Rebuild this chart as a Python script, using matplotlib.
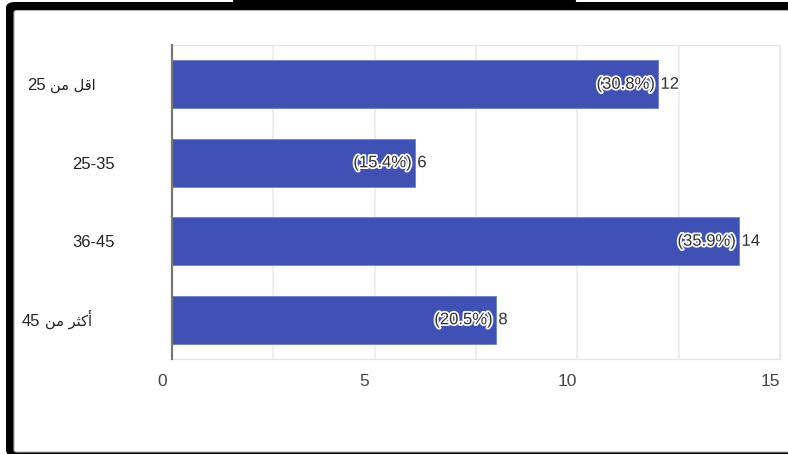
import numpy as np
import matplotlib.pyplot as plt
import matplotlib.patheffects as pe
from matplotlib.patches import FancyBboxPatch, Rectangle
from matplotlib.transforms import ScaledTranslation

plt.rcParams['font.family'] = ['Liberation Sans', 'DejaVu Sans']

# Data (Arabic labels written in visual order with presentation forms,
# since matplotlib does no shaping / bidi)
categories = ['25 \uFEE6\uFEE3 \uFEDE\uFED7\uFE8D',   # اقل من 25
              '25-35',
              '36-45',
              '45 \uFEE6\uFEE3 \uFEAE\uFE9C\uFEDB\uFE83']  # أكثر من 45
counts = [12, 6, 14, 8]
percents = ['30.8%', '15.4%', '35.9%', '20.5%']
xtick_values = [0, 5, 10, 15]

W, H = 788, 454
fig = plt.figure(figsize=(W / 100, H / 100), dpi=100)


def fx(px):
    return px / W


def fy(py):
    return 1 - py / H


# Black rounded frame around the chart (screenshot border)
outer = FancyBboxPatch((fx(6), fy(456)), fx(820) - fx(6), fy(2) - fy(456),
                       boxstyle='round,pad=0,rounding_size=0.012',
                       transform=fig.transFigure, facecolor='black',
                       edgecolor='none', zorder=-3)
inner = FancyBboxPatch((fx(14), fy(452)), fx(815) - fx(14), fy(10.5) - fy(452),
                       boxstyle='round,pad=0,rounding_size=0.004',
                       transform=fig.transFigure, facecolor='white',
                       edgecolor='#b0b0b0', linewidth=0.8, zorder=-2)
fig.patches.extend([outer, inner])
# bit of a table peeking in at the top
fig.patches.append(Rectangle((fx(233), fy(1.4)), fx(575) - fx(233), fy(0) - fy(1.4),
                             transform=fig.transFigure, facecolor='white',
                             edgecolor='black', linewidth=0.8, zorder=-1))
for px in [333, 426, 466]:
    fig.add_artist(plt.Line2D([fx(px), fx(px)], [fy(0), fy(1.4)],
                              transform=fig.transFigure, color='black', lw=0.8))

ax = fig.add_axes([fx(172), fy(359), fx(780) - fx(172), fy(45) - fy(359)])

y = np.arange(len(categories))
ax.barh(y, counts, height=0.615, color='#3f51b5', edgecolor='#6f7fd0',
        linewidth=0.6, zorder=2)

ax.set_xlim(0, 15)
ax.set_ylim(3.5, -0.5)
ax.set_xticks(xtick_values)
ax.set_xticks([2.5, 7.5, 12.5], minor=True)
ax.set_xticklabels([str(v) for v in xtick_values], fontsize=12.5, color='#444444')
ax.tick_params(axis='x', which='both', length=0, pad=11)
shift = ScaledTranslation(-10 / 100, 0, fig.dpi_scale_trans)
for lab in ax.get_xticklabels():
    lab.set_transform(lab.get_transform() + shift)
ax.grid(axis='x', which='both', color='#ebebeb', linewidth=1.2, zorder=0)

# category labels; the Arabic ones are split so the word part can be smaller
ax.set_yticks([])
ytr = ax.get_yaxis_transform()
label_x = [-0.125, -0.094, -0.094, -0.132]
for yi, cat, lx in zip(y, categories, label_x):
    num, _, word = cat.partition(' ')
    if word:
        t = ax.annotate(word, xy=(lx, yi), xycoords=ytr, xytext=(0, -4.3),
                        textcoords='offset points', ha='right', va='baseline',
                        fontsize=10.5, color='#222222', family='DejaVu Sans')
        ax.annotate(num, xy=(0, yi), xycoords=(t, ytr), xytext=(-3, -4.3),
                    textcoords='offset points', ha='right', va='baseline',
                    fontsize=12, color='#222222')
    else:
        ax.annotate(num, xy=(lx, yi), xycoords=ytr, xytext=(0, -4.3),
                    textcoords='offset points', ha='right', va='baseline',
                    fontsize=12, color='#222222')

for side in ['top', 'right', 'bottom']:
    ax.spines[side].set_color('#e6e6e6')
    ax.spines[side].set_linewidth(1.0)
ax.spines['left'].set_color('#777777')
ax.spines['left'].set_linewidth(1.6)
ax.spines['left'].set_zorder(3)

# value labels: "(pct) count"
for yi, c, p in zip(y, counts, percents):
    ax.annotate('(' + p + ')', (c, yi), xytext=(-2.5, 0), textcoords='offset points',
                ha='right', va='center', fontsize=12, color='#333333', zorder=4,
                path_effects=[pe.withStroke(linewidth=2.5, foreground='white')])
    ax.annotate(str(c), (c, yi), xytext=(1.5, 0), textcoords='offset points',
                ha='left', va='center', fontsize=12, color='#333333', zorder=4,
                path_effects=[pe.withStroke(linewidth=2.5, foreground='white')])

fig.savefig('out.png', dpi=100)
